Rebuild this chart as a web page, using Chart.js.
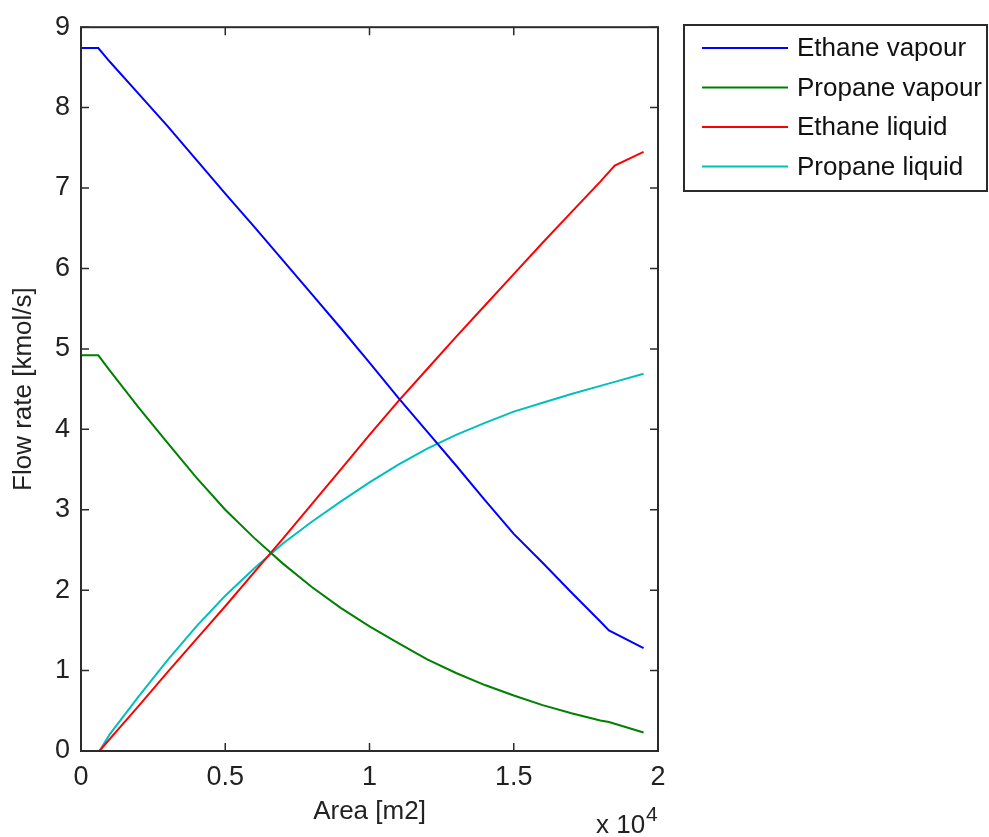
<!DOCTYPE html>
<html>
<head>
<meta charset="utf-8">
<script src="https://cdn.jsdelivr.net/npm/chart.js@4/dist/chart.umd.min.js"></script>
<style>
  html, body { margin: 0; padding: 0; background: #fff; }
  #wrap { width: 989px; height: 837px; }
</style>
</head>
<body>
<div id="wrap"><canvas id="flowChart" width="989" height="837"></canvas></div>
<script>
// area in m2, flow rates in kmol/s
const areaVapour = [0, 600, 1000, 2000, 3000, 4000, 5000, 6000, 7000, 8000, 9000, 10000,
  11000, 12000, 13000, 14000, 15000, 16000, 17000, 18000, 18300, 19500];
const ethaneVapour = [8.74, 8.74, 8.57, 8.17, 7.77, 7.35, 6.93, 6.52, 6.10, 5.68, 5.26, 4.83,
  4.39, 3.97, 3.55, 3.12, 2.70, 2.34, 1.97, 1.61, 1.50, 1.28];
const propaneVapour = [4.92, 4.92, 4.73, 4.27, 3.83, 3.40, 3.00, 2.65, 2.33, 2.04, 1.78, 1.55,
  1.34, 1.14, 0.97, 0.82, 0.69, 0.57, 0.47, 0.38, 0.36, 0.23];

const areaLiquid = [640, 1000, 2000, 3000, 4000, 5000, 6000, 7000, 8000, 9000, 10000,
  11000, 12000, 13000, 14000, 15000, 16000, 17000, 18000, 18500, 19500];
const ethaneLiquid = [0, 0.15, 0.56, 0.98, 1.39, 1.80, 2.22, 2.64, 3.07, 3.50, 3.93,
  4.35, 4.75, 5.15, 5.54, 5.93, 6.32, 6.70, 7.08, 7.28, 7.45];
const propaneLiquid = [0, 0.21, 0.68, 1.13, 1.55, 1.93, 2.27, 2.58, 2.85, 3.10, 3.34,
  3.56, 3.76, 3.93, 4.08, 4.22, 4.33, 4.44, 4.54, 4.59, 4.69];

const seriesLabels = ["Ethane vapour", "Propane vapour", "Ethane liquid", "Propane liquid"];
const seriesColors = ["#0000ff", "#008000", "#ff0000", "#00bfbf"];

const FONT = "'Liberation Sans', Arial, sans-serif";
const AXIS = "#2b2b2b";

function points(xs, ys) {
  return xs.map((x, i) => ({ x: x, y: ys[i] }));
}

// box around the plot with inward ticks on all four sides
const boxPlugin = {
  id: "box",
  afterDraw(chart) {
    const { ctx, chartArea: a, scales } = chart;
    const len = 8;
    ctx.save();
    ctx.strokeStyle = AXIS;
    ctx.lineWidth = 2;
    ctx.strokeRect(a.left, a.top, a.right - a.left, a.bottom - a.top);
    ctx.lineWidth = 1.5;
    ctx.beginPath();
    scales.x.ticks.forEach(t => {
      const px = scales.x.getPixelForValue(t.value);
      ctx.moveTo(px, a.bottom); ctx.lineTo(px, a.bottom - len);
      ctx.moveTo(px, a.top); ctx.lineTo(px, a.top + len);
    });
    scales.y.ticks.forEach(t => {
      const py = scales.y.getPixelForValue(t.value);
      ctx.moveTo(a.left, py); ctx.lineTo(a.left + len, py);
      ctx.moveTo(a.right, py); ctx.lineTo(a.right - len, py);
    });
    ctx.stroke();

    // exponent label
    ctx.fillStyle = "#222";
    ctx.textBaseline = "alphabetic";
    ctx.textAlign = "left";
    ctx.font = "26px " + FONT;
    ctx.fillText("x 10", 596, 833);
    ctx.font = "21px " + FONT;
    ctx.fillText("4", 646, 821);
    ctx.restore();
  }
};

// MATLAB-style legend box
const legendPlugin = {
  id: "boxLegend",
  afterDraw(chart) {
    const ctx = chart.ctx;
    ctx.save();
    ctx.fillStyle = "#fff";
    ctx.fillRect(684, 25, 303, 166);
    ctx.strokeStyle = AXIS;
    ctx.lineWidth = 2;
    ctx.strokeRect(684, 25, 303, 166);
    ctx.font = "26px " + FONT;
    ctx.textBaseline = "middle";
    ctx.textAlign = "left";
    chart.data.datasets.forEach((ds, i) => {
      const y = 48 + i * 39.5;
      ctx.strokeStyle = ds.borderColor;
      ctx.lineWidth = 2;
      ctx.beginPath();
      ctx.moveTo(702, y);
      ctx.lineTo(788, y);
      ctx.stroke();
      ctx.fillStyle = "#111";
      ctx.fillText(ds.label, 797, y + 1);
    });
    ctx.restore();
  }
};

const ctx = document.getElementById("flowChart");

const flowChart = new Chart(ctx, {
  type: "line",
  data: {
    datasets: [
      { label: seriesLabels[0], data: points(areaVapour, ethaneVapour), borderColor: seriesColors[0] },
      { label: seriesLabels[1], data: points(areaVapour, propaneVapour), borderColor: seriesColors[1] },
      { label: seriesLabels[2], data: points(areaLiquid, ethaneLiquid), borderColor: seriesColors[2] },
      { label: seriesLabels[3], data: points(areaLiquid, propaneLiquid), borderColor: seriesColors[3] }
    ].map(ds => Object.assign(ds, { borderWidth: 2, pointRadius: 0, tension: 0, fill: false }))
  },
  options: {
    responsive: false,
    animation: false,
    layout: { padding: { left: 0, top: 25, right: 331, bottom: 0 } },
    scales: {
      x: {
        type: "linear",
        min: 0,
        max: 20000,
        afterFit(scale) { scale.height = 86; },
        ticks: {
          stepSize: 5000,
          padding: 10,
          color: "#222",
          font: { family: FONT, size: 27 },
          callback: v => String(v / 10000)
        },
        grid: { display: false, drawTicks: false },
        border: { display: false },
        title: {
          display: true,
          text: "Area [m2]",
          color: "#222",
          font: { family: FONT, size: 26 },
          padding: { top: 0, bottom: 10 }
        }
      },
      y: {
        min: 0,
        max: 9,
        afterFit(scale) { scale.width = 81; },
        ticks: {
          stepSize: 1,
          padding: 11,
          color: "#222",
          font: { family: FONT, size: 27 }
        },
        grid: { display: false, drawTicks: false },
        border: { display: false },
        title: {
          display: true,
          text: "Flow rate [kmol/s]",
          color: "#222",
          font: { family: FONT, size: 26 },
          padding: { top: 8, bottom: 0 }
        }
      }
    },
    plugins: {
      legend: { display: false },
      tooltip: { enabled: false }
    }
  },
  plugins: [boxPlugin, legendPlugin]
});
</script>
</body>
</html>
